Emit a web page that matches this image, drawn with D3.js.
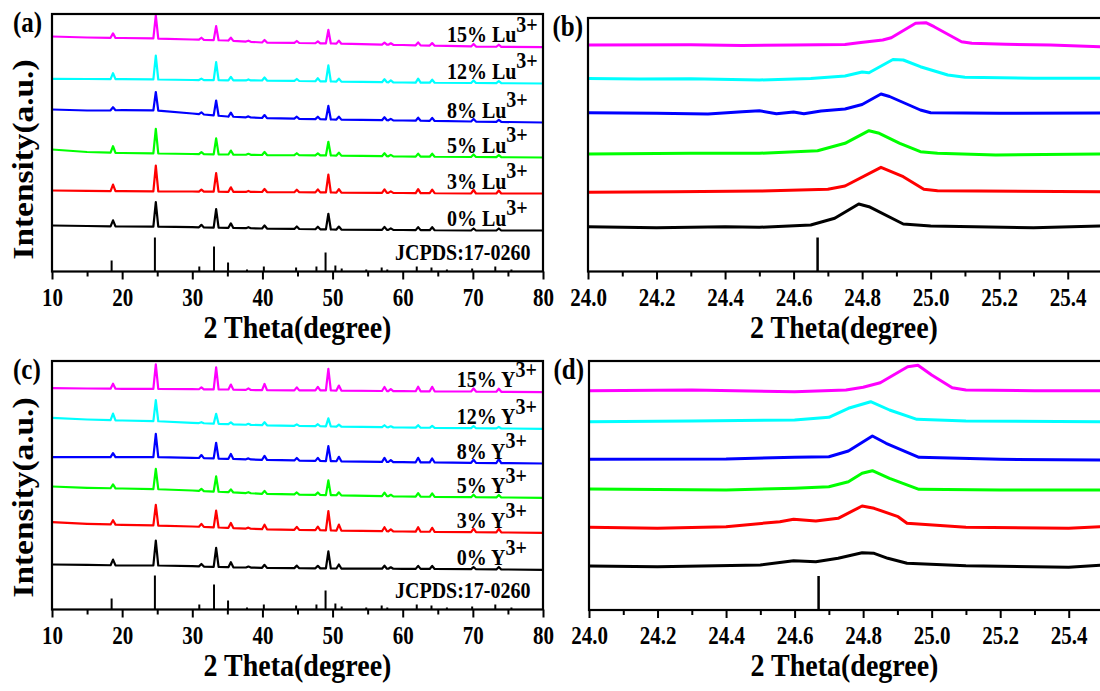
<!DOCTYPE html>
<html>
<head>
<meta charset="utf-8">
<script src="https://cdn.jsdelivr.net/npm/d3@7"></script>
<style>
  body { margin: 0; background: #fff; }
  svg text { font-family: "Liberation Serif", "Times New Roman", serif !important; font-weight: bold; fill: #000; }
</style>
</head>
<body>
<svg width="1100" height="691"></svg>
<script>
// sample order: 0%, 3%, 5%, 8%, 12%, 15%
const levels = ['0%', '3%', '5%', '8%', '12%', '15%'];
const colors = ['#000000', '#ff0000', '#00ff00', '#0000ff', '#00ffff', '#ff00ff'];

// wide scans: baseline read at these 2theta values, peak heights above baseline
const baseGrid = [10, 15, 20, 25, 30, 35, 40, 50, 60, 70, 80];
const peakPos = [18.7, 24.8, 31.3, 33.4, 35.5, 38.0, 40.3, 44.9, 47.9, 49.4, 50.9, 57.4, 58.3, 62.2, 64.2, 70.1, 73.7];

const luBase = [
  [46, 45.5, 45, 44.8, 44.3, 43.7, 43, 42, 41.5, 41, 41],
  [81, 80.7, 80.3, 80.2, 80, 79.7, 79.5, 79, 78.5, 78, 78],
  [122, 119.5, 118.5, 118, 117.5, 117, 116.5, 116, 115, 114.5, 114],
  [162, 161, 161.3, 161, 158, 155, 153.5, 152, 151, 150, 149],
  [192.7, 192.5, 192.3, 192, 191.5, 191.2, 191, 190, 189, 188.5, 188],
  [235, 234, 233.5, 233, 232, 231, 229, 228, 226.5, 225, 224.3]
];
const luPeaks = [
  [6, 24.5, 2.5, 18.5, 4.5, 1, 3, 2.5, 2.5, 15.7, 3, 3, 1.5, 3, 3, 2, 2],
  [6.5, 25.7, 2, 18.5, 4.5, 1, 3, 2.5, 3, 17.8, 3.5, 3.5, 1.5, 4, 3.5, 3.5, 3],
  [6.5, 24.7, 2, 16, 4, 1, 3, 2, 2, 13.7, 3, 3, 1.5, 3, 3, 2.5, 2],
  [3, 18.5, 2, 15, 4, 1, 3, 2, 2.5, 13.5, 3, 3, 1.5, 3, 3, 2.5, 2],
  [6, 24, 1.5, 18, 3.5, 1, 3, 2, 3, 16, 3, 3, 2, 4, 3, 2.5, 2],
  [4.5, 23, 2, 14, 3, 1, 2.5, 2, 2, 13.5, 3, 2, 1.5, 3, 2.5, 2.5, 2]
];

const yBase = [
  [45, 44.7, 44, 44, 43.3, 42.3, 41.7, 41, 40.7, 40.3, 39.7],
  [87.3, 85.7, 84.7, 84, 83, 81.7, 80.3, 79, 78, 77.3, 76.7],
  [123, 121.7, 121, 120.3, 119, 117.3, 115.7, 114.3, 113, 112.3, 111.7],
  [152.3, 152.3, 152.3, 152.3, 151.7, 150.7, 149.7, 148.3, 147.3, 146.7, 146],
  [191.7, 190, 189, 188.3, 186.7, 185.3, 184.3, 183, 182, 181.3, 180.7],
  [221.3, 221, 220.7, 220.7, 220.3, 220, 219.3, 219, 218.3, 218, 217.3]
];
const yPeaks = [
  [5.7, 25, 2.5, 19, 5, 1, 3, 2.5, 2.5, 17, 4, 3, 1.5, 3, 3, 2, 2.5],
  [4.3, 20.7, 3, 16.7, 5, 1, 4.5, 3, 3.5, 19.3, 6, 4, 2, 4.5, 4, 3.5, 3.5],
  [4, 20.3, 2, 15.3, 3, 1, 3, 2, 2.5, 14.7, 3, 3.5, 1.5, 3.5, 3.5, 2.5, 2.5],
  [4, 23.3, 3, 15.7, 5, 1, 4, 2.5, 3, 15, 4.5, 4, 2, 4.5, 4, 3, 4],
  [6.7, 21, 1, 10, 2, 1, 3, 1.5, 2, 8, 2, 2, 1, 2.5, 2, 2, 1.5],
  [5, 24.5, 2, 22, 5, 1.5, 6.3, 3, 3.5, 21.7, 5, 4, 2, 4.5, 4.5, 3, 3]
];

// JCPDS 17-0260 reference lines
const stickPos = [18.5, 24.67, 31.0, 33.1, 35.1, 37.8, 40.2, 44.8, 47.7, 49.0, 50.4, 51.3, 54.8, 57.0, 57.8, 62.0, 64.1, 66.3, 69.9, 73.2, 75.5];
const stickH = [11, 34, 5, 25, 9, 2, 5, 4, 5, 19, 6, 3, 2, 4, 2, 5, 4, 2, 3, 5, 2];

// zoomed scans around the (101) peak, [2theta, intensity]
const zoomLu = [
  [[24.0, 44.8], [24.2, 43.8], [24.4, 44.8], [24.5, 44.2], [24.65, 46.5], [24.72, 53.2], [24.79, 67.5], [24.82, 64.8], [24.92, 47.5], [25.0, 45.5], [25.3, 43.8], [25.5, 45.5]],
  [[24.0, 79.2], [24.25, 79.8], [24.5, 80.5], [24.7, 82.2], [24.75, 85.5], [24.855, 104.2], [24.92, 94.8], [24.98, 82.2], [25.02, 80.8], [25.5, 79.8]],
  [[24.0, 117.5], [24.3, 118.2], [24.5, 118.2], [24.67, 120.8], [24.75, 128.2], [24.82, 140.8], [24.85, 138.2], [24.91, 128.2], [24.97, 119.8], [25.02, 118.2], [25.19, 116.5], [25.5, 117.5]],
  [[24.0, 158.8], [24.2, 158.2], [24.35, 157.5], [24.45, 159.8], [24.5, 160.8], [24.55, 157.8], [24.6, 159.5], [24.63, 157.8], [24.68, 160.5], [24.75, 162.5], [24.8, 167], [24.855, 177.5], [24.88, 175], [24.97, 161.5], [25.0, 158.8], [25.2, 158.2], [25.5, 158.5]],
  [[24.0, 193], [24.15, 192.5], [24.3, 192.8], [24.5, 191.5], [24.65, 193], [24.75, 195.5], [24.8, 199.5], [24.82, 198.8], [24.89, 212], [24.92, 211.5], [24.97, 204.8], [25.05, 196.5], [25.1, 194.2], [25.3, 193.2], [25.5, 193.2]],
  [[24.0, 226.5], [24.3, 226.7], [24.45, 226], [24.6, 226.5], [24.75, 227], [24.79, 228.8], [24.86, 231.5], [24.885, 233.8], [24.956, 248.2], [24.986, 248.8], [25.01, 244.8], [25.09, 229.8], [25.12, 228.2], [25.22, 227.2], [25.35, 226.5], [25.5, 224.8]]
];
const zoomY = [
  [[24.0, 44], [24.2, 43.3], [24.5, 45], [24.597, 49.3], [24.662, 48.3], [24.727, 51.7], [24.797, 57.3], [24.832, 56.7], [24.872, 51.7], [24.928, 46.7], [25.1, 44.3], [25.4, 42.7], [25.5, 45]],
  [[24.0, 82.7], [24.2, 81.7], [24.4, 83.3], [24.557, 88.3], [24.597, 90.7], [24.662, 89], [24.727, 91.7], [24.797, 104], [24.832, 101.7], [24.902, 93.3], [24.928, 86.7], [25.1, 82.7], [25.4, 81.7], [25.5, 83.3]],
  [[24.0, 121], [24.4, 120], [24.6, 121.7], [24.7, 123.3], [24.757, 128.3], [24.797, 136.7], [24.827, 139.3], [24.877, 131.7], [24.963, 120.7], [25.2, 120], [25.5, 120]],
  [[24.0, 150.7], [24.4, 151], [24.6, 152.7], [24.7, 153.3], [24.757, 159], [24.827, 174], [24.867, 166.7], [24.963, 152.7], [25.2, 150.7], [25.5, 150]],
  [[24.0, 188.3], [24.3, 189], [24.6, 190], [24.7, 192.7], [24.757, 201.7], [24.822, 208.3], [24.877, 200], [24.957, 190.7], [25.1, 189], [25.5, 188.3]],
  [[24.0, 219.3], [24.3, 220], [24.6, 218.3], [24.75, 220], [24.8, 222.7], [24.85, 227.3], [24.93, 243.3], [24.96, 244.7], [25.0, 235], [25.06, 222.3], [25.1, 220], [25.3, 219.3], [25.5, 219.3]]
];

const wideTicks = [10, 20, 30, 40, 50, 60, 70, 80];
const wideMinor = [15, 25, 35, 45, 55, 65, 75];
const zoomTicks = [24.0, 24.2, 24.4, 24.6, 24.8, 25.0, 25.2, 25.4];
const zoomMinor = [24.1, 24.3, 24.5, 24.7, 24.9, 25.1, 25.3];

const svg = d3.select('svg');
const S = 1.2; // vertical stretch of the original figure's lettering
const FONT = '"Liberation Serif", "Times New Roman", serif';

function widePoints(base, peaks) {
  const b = d3.scaleLinear().domain(baseGrid).range(base);
  const w = 0.35;
  const pts = baseGrid
    .filter(g => !peakPos.some(p => Math.abs(g - p) < w))
    .map(g => [g, b(g)]);
  peakPos.forEach((p, i) => {
    pts.push([p - w, b(p - w)], [p, b(p) + peaks[i]], [p + w, b(p + w)]);
  });
  return pts.sort((m, n) => m[0] - n[0]);
}

function stretchedText(g, x, y, size, anchor, sy) {
  return g.append('text')
    .attr('transform', `translate(${x},${y}) scale(1,${sy || S})`)
    .attr('text-anchor', anchor || 'start')
    .style('font-family', FONT)
    .style('font-weight', 'bold')
    .style('font-size', size + 'px');
}

function panel(p) {
  const g = svg.append('g');
  const x = d3.scaleLinear().domain(p.domain).range([p.left, p.right]);
  const y = d3.scaleLinear().domain([0, 100]).range([p.axisY, p.axisY - 100]);
  const line = d3.line().x(d => x(d[0])).y(d => y(d[1]));

  // reference sticks
  g.selectAll('line.stick')
    .data(stickPos.map((s, i) => [s, stickH[i]]).filter(d => d[0] >= p.domain[0] && d[0] <= p.domain[1]))
    .enter().append('line')
    .attr('class', 'stick')
    .attr('x1', d => x(d[0])).attr('x2', d => x(d[0]))
    .attr('y1', y(0)).attr('y2', d => y(d[1]))
    .attr('stroke', '#000').attr('stroke-width', p.zoom ? 2.5 : 2);

  // patterns
  g.selectAll('path.scan')
    .data(p.series)
    .enter().append('path')
    .attr('class', 'scan')
    .attr('d', line)
    .attr('fill', 'none')
    .attr('stroke', (d, i) => colors[i])
    .attr('stroke-width', p.zoom ? 3 : 2.2)
    .attr('stroke-linejoin', 'round');

  // axes
  const minor = g.append('g').attr('transform', `translate(0,${p.axisY})`)
    .call(d3.axisBottom(x).tickValues(p.minor).tickSize(5).tickFormat(''));
  minor.select('.domain').remove();
  minor.selectAll('line').attr('stroke-width', 2);

  const major = g.append('g').attr('transform', `translate(0,${p.axisY})`)
    .call(d3.axisBottom(x).tickValues(p.ticks).tickSize(8).tickFormat(p.fmt))
    .attr('font-family', null).attr('font-size', null);
  major.select('.domain').remove();
  major.selectAll('line').attr('stroke-width', 2);
  major.selectAll('text')
    .attr('y', null).attr('dy', null)
    .attr('transform', `translate(0,34) scale(1,${S})`)
    .style('font-family', FONT)
    .style('font-weight', 'bold')
    .style('font-size', '21px');

  // frame
  g.append('rect')
    .attr('x', p.left).attr('y', p.top)
    .attr('width', p.right - p.left).attr('height', p.axisY - p.top)
    .attr('fill', 'none').attr('stroke', '#000').attr('stroke-width', 2.2);

  // sample labels
  if (p.ion) {
    p.series.forEach((s, i) => {
      const t = stretchedText(g, x(p.labelX), y(s[s.length - 1][1]) - 5, 20);
      t.append('tspan').text(`${levels[i]} ${p.ion}`);
      t.append('tspan').attr('dy', -8.5).text('3+');
    });
    stretchedText(g, p.right - 148, p.axisY - 12, 20).text('JCPDS:17-0260');
    stretchedText(g, 0, 0, 29, 'middle')
      .attr('transform', `translate(33,${p.axisY - 112}) rotate(-90) scale(1.15,1)`)
      .text('Intensity(a.u.)');
  }

  // panel letter and x title
  stretchedText(g, p.tagX, p.top + 18, 25, p.tagAnchor).text(p.tag);
  const mid = (p.left + Math.min(p.right, 1100)) / 2;
  stretchedText(g, mid, p.axisY + 66, 28, 'middle', 1.12).text('2 Theta(degree)');
}

panel({
  tag: '(a)', tagX: 13, tagAnchor: 'start', ion: 'Lu', labelX: 66.3,
  domain: [10, 80], left: 52, right: 543, top: 14, axisY: 271.5,
  ticks: wideTicks, minor: wideMinor, fmt: d3.format('d'),
  series: luBase.map((b, i) => widePoints(b, luPeaks[i]))
});
panel({
  tag: '(b)', tagX: 583, tagAnchor: 'end', zoom: true,
  domain: [24.0, 25.5], left: 588, right: 1102, top: 18, axisY: 271.5,
  ticks: zoomTicks, minor: zoomMinor, fmt: d3.format('.1f'),
  series: zoomLu
});
panel({
  tag: '(c)', tagX: 13, tagAnchor: 'start', ion: 'Y', labelX: 67.7,
  domain: [10, 80], left: 52, right: 543, top: 361, axisY: 609.5,
  ticks: wideTicks, minor: wideMinor, fmt: d3.format('d'),
  series: yBase.map((b, i) => widePoints(b, yPeaks[i]))
});
panel({
  tag: '(d)', tagX: 584, tagAnchor: 'end', zoom: true,
  domain: [24.0, 25.5], left: 589, right: 1103, top: 361, axisY: 610,
  ticks: zoomTicks, minor: zoomMinor, fmt: d3.format('.1f'),
  series: zoomY
});
</script>
</body>
</html>
